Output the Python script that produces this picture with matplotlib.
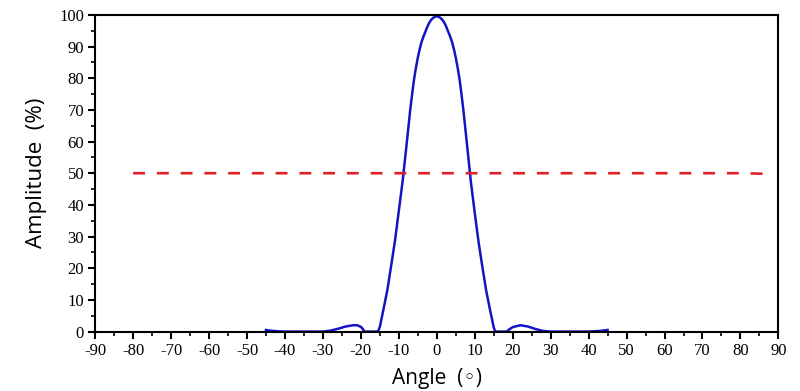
import matplotlib
matplotlib.use('Agg')
import matplotlib.pyplot as plt
from matplotlib.ticker import MultipleLocator

plt.rcParams['axes.unicode_minus'] = False

# beam pattern (angle in degrees, amplitude in %)
angle = [-45, -44, -42, -40, -35, -30, -28, -26, -24, -22, -21, -20, -19.5, -19,
         -15.5, -15, -14, -13, -12, -11, -10, -9, -8, -7, -6.5, -6, -5.5, -5, -4.5, -4,
         -3.5, -3, -2.5, -2, -1.5, -1, -0.5,
         0, 0.5, 1, 1.5, 2, 2.5, 3, 3.5, 4, 4.5, 5, 5.5, 6, 6.5, 7,
         8, 9, 10, 11, 12, 13, 14, 15, 15.4,
         18.5, 19, 20, 22, 24, 26, 28, 30, 35, 40, 43, 45]
amplitude = [0.5, 0.3, 0.1, 0, 0, 0, 0.3, 0.9, 1.6, 2.0, 2.0, 1.5, 0.8, 0,
             0, 1.5, 7.3, 13.3, 21, 28.8, 38.2, 47.5, 58.6, 70, 75, 79.6, 83.3, 86.5, 89.2, 91.5,
             93.2, 94.7, 96.2, 97.5, 98.4, 99.0, 99.4,
             99.5, 99.4, 99.0, 98.4, 97.5, 96.2, 94.7, 93.2, 91.5, 89.2, 86.5, 83.3, 79.6, 75, 70,
             58.6, 47, 37.5, 28.3, 20.5, 13, 7, 1.3, 0,
             0, 0.6, 1.4, 2.0, 1.6, 0.8, 0.2, 0, 0, 0, 0.2, 0.5]

ref_angle = [-80, 80, 87.5]
ref_level = [50, 50, 49.8]

fig = plt.figure(figsize=(8, 3.91), dpi=100)
ax = fig.add_axes([0.119, 0.152, 0.854, 0.81])

ax.plot(angle, amplitude, color='#1414c4', lw=1.8)
ax.plot(ref_angle, ref_level, color='#e02028', lw=1.9, dashes=(4.5, 4.5))

ax.set_xlim(-90, 90)
ax.set_ylim(0, 100)
ax.xaxis.set_major_locator(MultipleLocator(10))
ax.xaxis.set_minor_locator(MultipleLocator(5))
ax.yaxis.set_major_locator(MultipleLocator(10))
ax.yaxis.set_minor_locator(MultipleLocator(5))

for s in ax.spines.values():
    s.set_linewidth(1.5)
ax.tick_params(which='major', direction='out', length=5, width=1.5, pad=3,
               top=False, right=False)
ax.tick_params(which='minor', direction='out', length=3, width=1.2,
               top=False, right=False)
for lab in ax.get_xticklabels() + ax.get_yticklabels():
    lab.set_family('Liberation Serif')
    lab.set_fontsize(12)

ax.set_xlabel('Angle  (◦)', family=['Open Sans', 'DejaVu Sans'], fontsize=15, labelpad=7)
ax.set_ylabel('Amplitude  (%)', family=['Open Sans', 'DejaVu Sans'], fontsize=16,
              fontweight='medium', labelpad=9)

fig.savefig('out.png', dpi=100)
